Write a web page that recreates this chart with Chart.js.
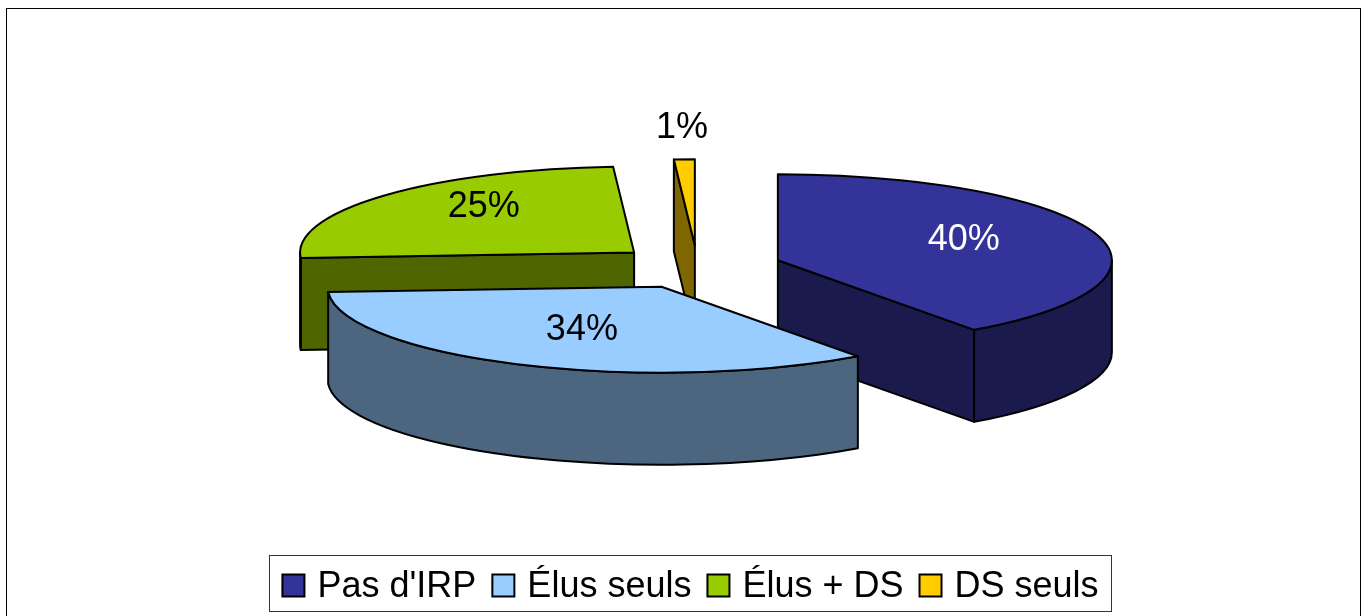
<!DOCTYPE html>
<html>
<head>
<meta charset="utf-8">
<style>html,body{margin:0;padding:0;background:#fff}canvas{display:block}</style>
<script src="https://cdn.jsdelivr.net/npm/chart.js@4"></script>
</head>
<body>
<canvas id="c" width="1366" height="616"></canvas>
<script>
const categories = ["Pas d'IRP", "Élus seuls", "Élus + DS", "DS seuls"];
const shares = [40, 34, 25, 1];
const percentLabels = ["40%", "34%", "25%", "1%"];
const topColors = ["#333399", "#99CCFF", "#99CC00", "#FFCC00"];
const sideColors = ["#1A1A4D", "#4D6680", "#4D6600", "#806600"];
const labelColors = ["#FFFFFF", "#000000", "#000000", "#000000"];

const FONT = '"Liberation Sans", Arial, sans-serif';
const view = {
  centerX: 697.5, centerY: 267, tilt: 0.2575, depth: 92, explode: 84.5,
  paintOrder: [3, 2, 0, 1],
  labelRadius: [0.585, 0.56, 0.60, 1.33],
  labelShift: [[0, -5], [0, 0], [0, -11], [1, -3]]
};

const pie3d = {
  id: 'pie3d',
  beforeDraw(chart) {
    const ctx = chart.ctx;
    ctx.save();
    ctx.fillStyle = '#fff';
    ctx.fillRect(0, 0, chart.width, chart.height);
    ctx.strokeStyle = '#000';
    ctx.lineWidth = 1;
    ctx.strokeRect(6.5, 8.5, 1354, 640);
    ctx.strokeStyle = '#333';
    ctx.strokeRect(269.5, 555.5, 842, 56);
    ctx.restore();
  },
  afterDraw(chart) {
    const ctx = chart.ctx;
    ctx.save();
    chart.legend.legendHitBoxes.forEach((b, i) => {
      ctx.fillStyle = topColors[i];
      ctx.strokeStyle = '#000';
      ctx.lineWidth = 2;
      ctx.fillRect(b.left, 574.5, 22, 22);
      ctx.strokeRect(b.left, 574.5, 22, 22);
    });
    ctx.restore();
  },
  beforeDatasetDraw(chart, args) {
    const ctx = chart.ctx;
    const meta = args.meta;
    const k = view.tilt;
    view.paintOrder.forEach(i => {
      const arc = meta.data[i];
      const p = arc.getProps(['x', 'y', 'startAngle', 'endAngle', 'outerRadius'], true);
      const mid = (p.startAngle + p.endAngle) / 2;
      const cx = view.centerX + Math.cos(mid) * view.explode;
      const cy = view.centerY + Math.sin(mid) * view.explode * k;
      const r = p.outerRadius;
      const px = a => cx + Math.cos(a) * r;
      const py = a => cy + Math.sin(a) * r * k;
      ctx.save();
      ctx.lineWidth = 2;
      ctx.lineJoin = 'round';
      ctx.strokeStyle = '#000';
      ctx.fillStyle = sideColors[i];
      const cut = a => {
        ctx.beginPath();
        ctx.moveTo(cx, cy);
        ctx.lineTo(px(a), py(a));
        ctx.lineTo(px(a), py(a) + view.depth);
        ctx.lineTo(cx, cy + view.depth);
        ctx.closePath();
        ctx.fill();
        ctx.stroke();
      };
      if (Math.cos(p.startAngle) < -1e-6) cut(p.startAngle);
      if (Math.cos(p.endAngle) > 1e-6) cut(p.endAngle);
      const lo = Math.max(p.startAngle, 0), hi = Math.min(p.endAngle, Math.PI);
      if (lo < hi) {
        ctx.beginPath();
        ctx.ellipse(cx, cy, r, r * k, 0, lo, hi);
        ctx.ellipse(cx, cy + view.depth, r, r * k, 0, hi, lo, true);
        ctx.closePath();
        ctx.fill();
        ctx.stroke();
      }
      // top face: the library's own arc element, tilted and moved out
      ctx.save();
      ctx.translate(cx, cy);
      ctx.scale(1, k);
      ctx.translate(-p.x, -p.y);
      arc.draw(ctx);
      ctx.restore();
      ctx.beginPath();
      ctx.moveTo(cx, cy);
      ctx.ellipse(cx, cy, r, r * k, 0, p.startAngle, p.endAngle);
      ctx.closePath();
      ctx.stroke();
      ctx.restore();
    });
    return false;
  },
  afterDatasetsDraw(chart) {
    const ctx = chart.ctx;
    const meta = chart.getDatasetMeta(0);
    const k = view.tilt;
    ctx.save();
    ctx.font = '36px ' + FONT;
    ctx.textAlign = 'center';
    ctx.textBaseline = 'middle';
    meta.data.forEach((arc, i) => {
      const p = arc.getProps(['startAngle', 'endAngle', 'outerRadius'], true);
      const mid = (p.startAngle + p.endAngle) / 2;
      const cx = view.centerX + Math.cos(mid) * view.explode;
      const cy = view.centerY + Math.sin(mid) * view.explode * k;
      const lr = p.outerRadius * view.labelRadius[i];
      ctx.fillStyle = labelColors[i];
      ctx.fillText(percentLabels[i],
        cx + Math.cos(mid) * lr + view.labelShift[i][0],
        cy + Math.sin(mid) * lr * k + view.labelShift[i][1]);
    });
    ctx.restore();
  }
};

new Chart(document.getElementById('c'), {
  type: 'pie',
  data: {
    labels: categories,
    datasets: [{
      data: shares,
      backgroundColor: topColors,
      borderWidth: 0,
      radius: 334
    }]
  },
  options: {
    responsive: false,
    animation: false,
    layout: { padding: { left: 15, right: 0, top: 0, bottom: 1 } },
    plugins: {
      title: { display: false },
      tooltip: { enabled: false },
      legend: {
        display: true,
        position: 'bottom',
        labels: {
          font: { family: FONT, size: 36 },
          color: '#000',
          boxWidth: 17,
          boxHeight: 14,
          padding: 16,
          generateLabels: chart => categories.map((c, i) => ({
            text: c, fillStyle: topColors[i], strokeStyle: '#000', lineWidth: 1, index: i, hidden: false
          }))
        }
      }
    }
  },
  plugins: [pie3d]
});
</script>
</body>
</html>
